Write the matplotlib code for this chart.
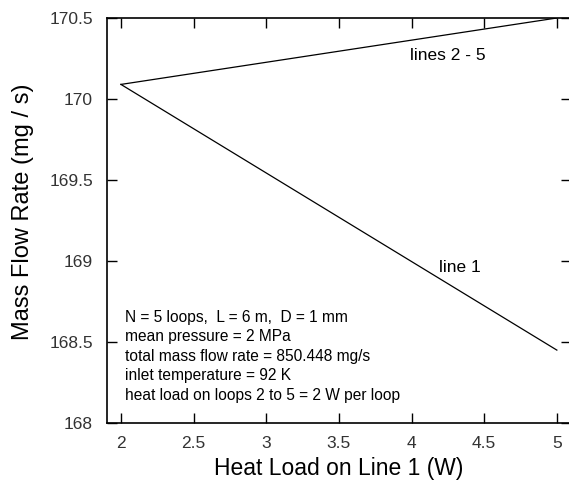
import numpy as np
import matplotlib
matplotlib.use("Agg")
import matplotlib.pyplot as plt

plt.rcParams['font.family'] = ['Liberation Sans', 'DejaVu Sans']

# heat load on line 1 (W)
heat_load = [2, 5]
# mass flow rate (mg/s)
flow_line1 = [170.09, 168.45]
flow_lines2to5 = [170.09, 170.50]

xticks = [2, 2.5, 3, 3.5, 4, 4.5, 5]
xticklabels = ['2', '2.5', '3', '3.5', '4', '4.5', '5']
yticks = [168, 168.5, 169, 169.5, 170, 170.5]
yticklabels = ['168', '168.5', '169', '169.5', '170', '170.5']

info = ("N = 5 loops,  L = 6 m,  D = 1 mm\n"
        "mean pressure = 2 MPa\n"
        "total mass flow rate = 850.448 mg/s\n"
        "inlet temperature = 92 K\n"
        "heat load on loops 2 to 5 = 2 W per loop")

fig = plt.figure(figsize=(5.69, 4.80), dpi=100)
# right side of the frame runs off the edge of the figure
ax = fig.add_axes([107/569, 57/480, 463.5/569, 405/480])

ax.plot(heat_load, flow_line1, color='black', lw=0.9)
ax.plot(heat_load, flow_lines2to5, color='black', lw=0.9)

ax.set_xlim(1.904, 1.904 + 463.5/145.3)
ax.set_ylim(168, 170.5)
ax.set_xticks(xticks)
ax.set_xticklabels(xticklabels)
ax.set_yticks(yticks)
ax.set_yticklabels(yticklabels)
ax.tick_params(direction='in', length=7, width=1, top=True, right=True,
               labelsize=12.5, labelcolor='#333333', pad=10)
ax.tick_params(axis='x', pad=9)
for s in ax.spines.values():
    s.set_linewidth(1.2)
ax.spines['right'].set_visible(False)

ax.set_xlabel('Heat Load on Line 1 (W)', fontsize=16.5)
ax.set_ylabel('Mass Flow Rate (mg / s)', fontsize=17)
ax.xaxis.set_label_coords(0.5, -0.083)
ax.yaxis.set_label_coords(-0.158, 0.521)

ax.text(4.25, 170.27, 'lines 2 - 5', fontsize=12.5, ha='center', va='center')
ax.text(4.33, 168.96, 'line 1', fontsize=12.5, ha='center', va='center')
ax.text(2.025, 168.70, info, fontsize=11.2, ha='left', va='top', linespacing=1.38)

fig.savefig('out.png', dpi=100)
